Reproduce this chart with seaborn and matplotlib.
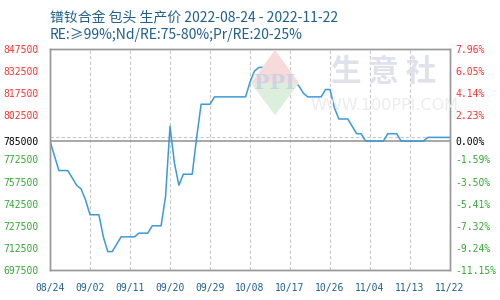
import numpy as np
import pandas as pd
import matplotlib
matplotlib.use("Agg")
import matplotlib.pyplot as plt
import seaborn as sns
from matplotlib.patches import Polygon
from matplotlib.ticker import FixedLocator

# ---- data ----
start_date = "2022-08-24"
prices = [785000, 775000, 765000, 765000, 765000, 760000, 755000, 752500, 745000, 735000,
          735000, 735000, 720000, 710000, 710000, 715000, 720000, 720000, 720000, 720000,
          722500, 722500, 722500, 727500, 727500, 727500, 747500, 795000, 770000, 755000,
          762500, 762500, 762500, 787500, 810000, 810000, 810000, 815000, 815000, 815000,
          815000, 815000, 815000, 815000, 815000, 825000, 832500, 835000, 835000, 832500,
          832500, 832500, 832500, 832500, 827500, 825000, 822500, 817500, 815000, 815000,
          815000, 815000, 820000, 820000, 807500, 800000, 800000, 800000, 795000, 790000,
          790000, 785000, 785000, 785000, 785000, 785000, 790000, 790000, 790000, 785000,
          785000, 785000, 785000, 785000, 785000, 787500, 787500, 787500, 787500, 787500,
          787500]
base_price = 785000
ytick_values = [847500, 832500, 817500, 802500, 785000, 772500, 757500, 742500, 727500, 712500, 697500]
grid_values = [847500, 832500, 817500, 802500, 787500, 772500, 757500, 742500, 727500, 712500, 697500]
xtick_labels = ["08/24", "09/02", "09/11", "09/20", "09/29", "10/08", "10/17", "10/26", "11/04", "11/13", "11/22"]
title_line1 = "镨钕合金 包头 生产价 2022-08-24 - 2022-11-22"
title_line2 = "RE:≥99%;Nd/RE:75-80%;Pr/RE:20-25%"

dates = pd.date_range(start_date, periods=len(prices), freq="D")
df = pd.DataFrame({"date": dates, "price": prices})
xtick_dates = [pd.Timestamp(f"2022/{l}") for l in xtick_labels]

sns.set_theme(style="white")
plt.rcParams["font.family"] = ["Noto Sans CJK SC", "DejaVu Sans"]

fig = plt.figure(figsize=(5, 3), dpi=100)
ax = fig.add_axes([0.1, 0.1, 0.8, 0.7367])

# watermark
RED = "#ff3333"
GREEN = "#33aa33"
TITLE = "#1f5f8b"
fig.patches.append(Polygon([[275/500, 1-50/300], [299/500, 1-83/300], [251/500, 1-83/300]],
                           closed=True, transform=fig.transFigure, facecolor="#f8dada", edgecolor="none", zorder=0))
fig.patches.append(Polygon([[251/500, 1-83/300], [299/500, 1-83/300], [275/500, 1-115/300]],
                           closed=True, transform=fig.transFigure, facecolor="#dbefdc", edgecolor="none", zorder=0))
ax.set_facecolor("none")
fig.text(275/500, 1-83/300, "PPI", fontsize=15, fontweight="bold", color="#ccd3e3",
         ha="center", va="center", family="DejaVu Serif", zorder=1)
fig.text(384/500, 1-72/300, "生 意 社", fontsize=22, fontweight="bold", color="#dfe2eb",
         ha="center", va="center", zorder=1)
fig.text(384/500, 1-106/300, "WWW.100PPI.COM", fontsize=11.5, color="#ececec",
         ha="center", va="center", family="DejaVu Sans", zorder=1)

sns.lineplot(data=df, x="date", y="price", ax=ax, color="#3c9ad8", linewidth=1.1, zorder=5)

ax.set_xlim(dates[0], dates[-1])
ax.set_ylim(grid_values[-1], grid_values[0])

# grid via minor ticks
ax.yaxis.set_minor_locator(FixedLocator(grid_values))
ax.set_xticks(xtick_dates)
ax.set_xticklabels(xtick_labels)
ax.set_yticks(ytick_values)
ax.set_yticklabels([str(v) for v in ytick_values])
ax.grid(False)
ax.grid(True, which="minor", axis="y", color="#c8c8c8", linestyle=(0, (3, 2)), linewidth=0.8)
ax.grid(True, which="major", axis="x", color="#c8c8c8", linestyle=(0, (3, 2)), linewidth=0.8)
ax.axhline(base_price, color="#999999", linewidth=1.2, zorder=4)

mono = "DejaVu Sans Mono"
ax.tick_params(axis="y", which="both", length=0, pad=8, labelsize=7)
ax.tick_params(axis="x", length=0, pad=9, labelsize=7, labelcolor=TITLE)
for lbl, v in zip(ax.get_yticklabels(), ytick_values):
    lbl.set_family(mono)
    lbl.set_color(RED if v > base_price else ("black" if v == base_price else GREEN))
for lbl in ax.get_xticklabels():
    lbl.set_family(mono)
ax.set_xlabel("")
ax.set_ylabel("")
for s in ax.spines.values():
    s.set_color("#999999")
    s.set_linewidth(1.0)

# right axis: percent change
ax2 = ax.twinx()
ax2.set_ylim(ax.get_ylim())
ax2.set_yticks(ytick_values)
pcts = [v / base_price - 1 for v in ytick_values]
ax2.set_yticklabels([f"{p*100:.2f}%" for p in pcts])
ax2.tick_params(axis="y", length=0, pad=4, labelsize=7)
for lbl, p in zip(ax2.get_yticklabels(), pcts):
    lbl.set_family(mono)
    lbl.set_color(RED if p > 1e-9 else ("black" if abs(p) < 1e-9 else GREEN))
ax2.grid(False)
for s in ax2.spines.values():
    s.set_color("#999999")
    s.set_linewidth(1.0)

fig.text(50/500, 1-17/300, title_line1, fontsize=10, color=TITLE, ha="left", va="center")
fig.text(50/500, 1-35/300, title_line2, fontsize=10, color=TITLE, ha="left", va="center")

fig.savefig("out.png", dpi=100)
